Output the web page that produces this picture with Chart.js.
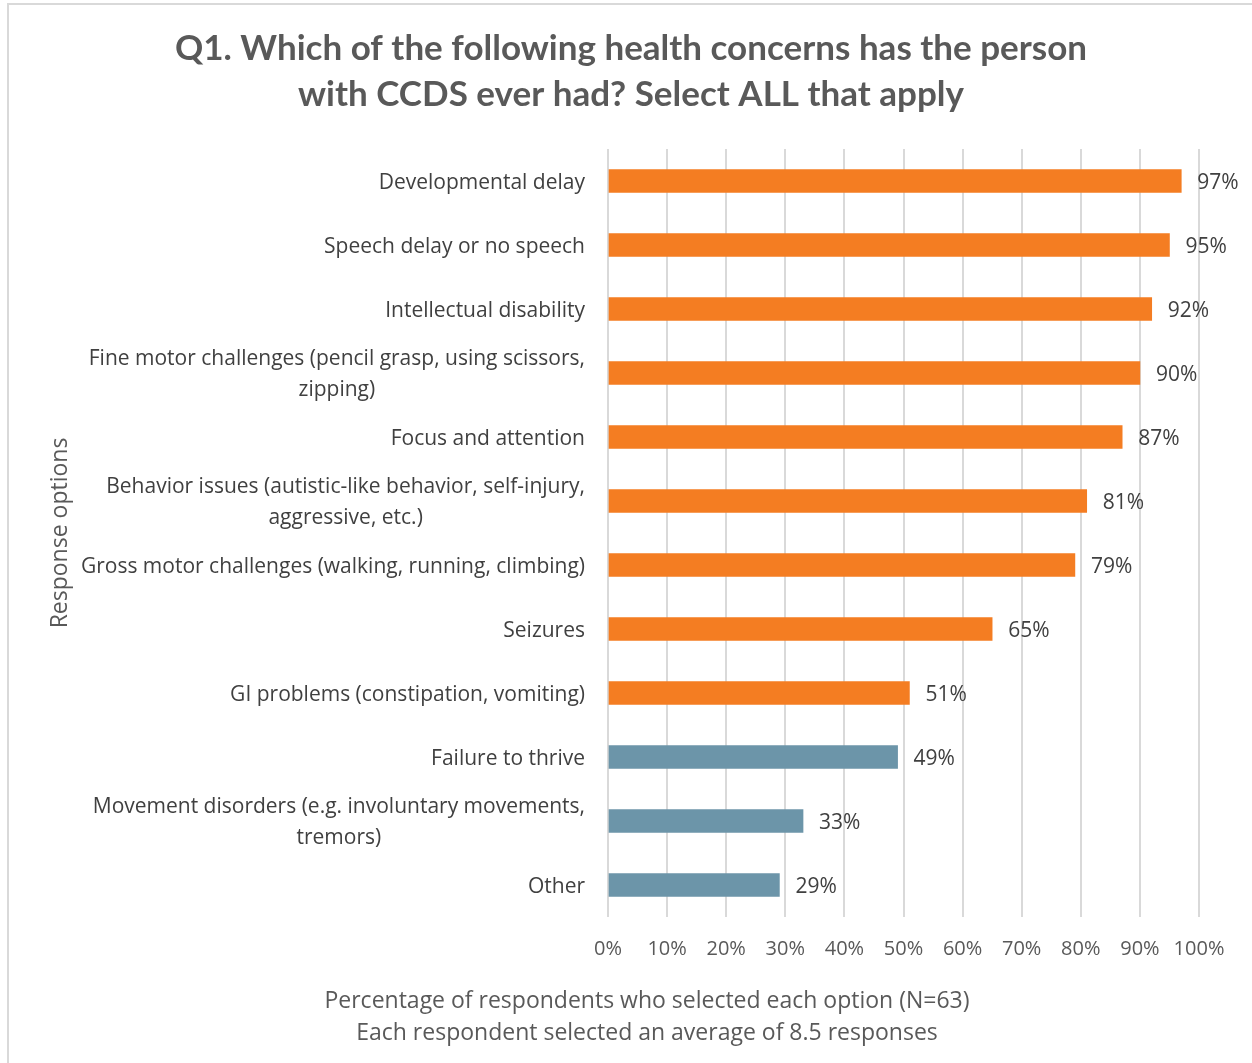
<!DOCTYPE html>
<html>
<head>
<meta charset="utf-8">
<title>Q1 health concerns</title>
<script src="https://cdn.jsdelivr.net/npm/chart.js@4/dist/chart.umd.min.js"></script>
<style>
  html, body { margin: 0; padding: 0; background: #fff; }
  #wrap { position: relative; width: 1252px; height: 1063px; }
</style>
</head>
<body>
<div id="wrap"><canvas id="chart"></canvas></div>
<script>
  const categories = [
    ['Developmental delay'],
    ['Speech delay or no speech'],
    ['Intellectual disability'],
    ['Fine motor challenges (pencil grasp, using scissors,', 'zipping)'],
    ['Focus and attention'],
    ['Behavior issues (autistic-like behavior, self-injury,', 'aggressive, etc.)'],
    ['Gross motor challenges (walking, running, climbing)'],
    ['Seizures'],
    ['GI problems (constipation, vomiting)'],
    ['Failure to thrive'],
    ['Movement disorders (e.g. involuntary movements,', 'tremors)'],
    ['Other']
  ];
  const percents = [97, 95, 92, 90, 87, 81, 79, 65, 51, 49, 33, 29];
  const xTicks = [0, 10, 20, 30, 40, 50, 60, 70, 80, 90, 100];

  const titleLines = [
    'Q1. Which of the following health concerns has the person',
    'with CCDS ever had? Select ALL that apply'
  ];
  const xTitleLines = [
    'Percentage of respondents who selected each option (N=63)',
    'Each respondent selected an average of 8.5 responses'
  ];
  const yTitle = 'Response options';

  const ORANGE = '#F47D22';
  const SLATE = '#6C95A9';
  const TEXT = '#404040';
  const MUTED = '#595959';
  const GRID = '#D9D9D9';
  const FONT = '"Open Sans", "DejaVu Sans", sans-serif';

  // majority answers in orange, the rest in slate
  const barColors = percents.map((p) => (p >= 50 ? ORANGE : SLATE));

  // frame, category labels, value labels and axis titles
  const decorations = {
    id: 'decorations',
    beforeDraw(chart) {
      const ctx = chart.ctx;
      ctx.save();
      ctx.strokeStyle = GRID;
      ctx.lineWidth = 2;
      ctx.strokeRect(8, 4, 1300, 1100);
      ctx.restore();
    },
    afterDraw(chart) {
      const ctx = chart.ctx;
      const area = chart.chartArea;
      const yScale = chart.scales.y;
      const xScale = chart.scales.x;
      ctx.save();

      // category labels: block right-aligned, lines centred inside the block
      ctx.font = '21px ' + FONT;
      ctx.fillStyle = TEXT;
      ctx.textBaseline = 'middle';
      ctx.textAlign = 'center';
      const right = area.left - 23;
      const lineH = 31;
      categories.forEach((lines, i) => {
        const y = yScale.getPixelForValue(i) + 2;
        const w = Math.max(...lines.map((l) => ctx.measureText(l).width));
        const cx = right - w / 2;
        const y0 = y - ((lines.length - 1) * lineH) / 2;
        lines.forEach((l, j) => ctx.fillText(l, cx, y0 + j * lineH));
      });

      // value labels after each bar
      ctx.textAlign = 'left';
      percents.forEach((p, i) => {
        ctx.fillText(p + '%', xScale.getPixelForValue(p) + 16, yScale.getPixelForValue(i) + 2);
      });

      // vertical axis title
      ctx.font = '23px ' + FONT;
      ctx.fillStyle = MUTED;
      ctx.save();
      ctx.translate(60, (area.top + area.bottom) / 2);
      ctx.rotate(-Math.PI / 2);
      ctx.textAlign = 'center';
      ctx.fillText(yTitle, 0, 0);
      ctx.restore();

      // horizontal axis title, two lines
      ctx.textAlign = 'center';
      xTitleLines.forEach((l, j) => ctx.fillText(l, 647, 1001 + j * 32));

      ctx.restore();
    }
  };

  new Chart(document.getElementById('chart'), {
    type: 'bar',
    data: {
      labels: categories,
      datasets: [{
        data: percents,
        backgroundColor: barColors,
        barThickness: 23
      }]
    },
    options: {
      indexAxis: 'y',
      responsive: true,
      maintainAspectRatio: false,
      animation: false,
      layout: { padding: { left: 63, right: 53, top: 0, bottom: 0 } },
      plugins: {
        legend: { display: false },
        tooltip: { enabled: false },
        title: {
          display: true,
          text: titleLines,
          color: MUTED,
          font: { family: 'Lato, "Open Sans", sans-serif', size: 35, weight: 'bold', lineHeight: 1.3 },
          padding: { top: 26, bottom: 32 }
        }
      },
      scales: {
        x: {
          min: 0,
          max: 100,
          afterBuildTicks(scale) {
            scale.ticks = xTicks.map((v) => ({ value: v }));
          },
          afterFit(scale) { scale.height = 1063 - 917; },
          ticks: {
            color: MUTED,
            font: { family: FONT, size: 20 },
            padding: 20,
            callback: (v) => v + '%'
          },
          grid: { color: GRID, lineWidth: 2, drawTicks: false },
          border: { display: false }
        },
        y: {
          afterFit(scale) { scale.width = 608 - 63; },
          ticks: { display: false },
          grid: { display: false },
          border: { display: false }
        }
      }
    },
    plugins: [decorations]
  });
</script>
</body>
</html>
